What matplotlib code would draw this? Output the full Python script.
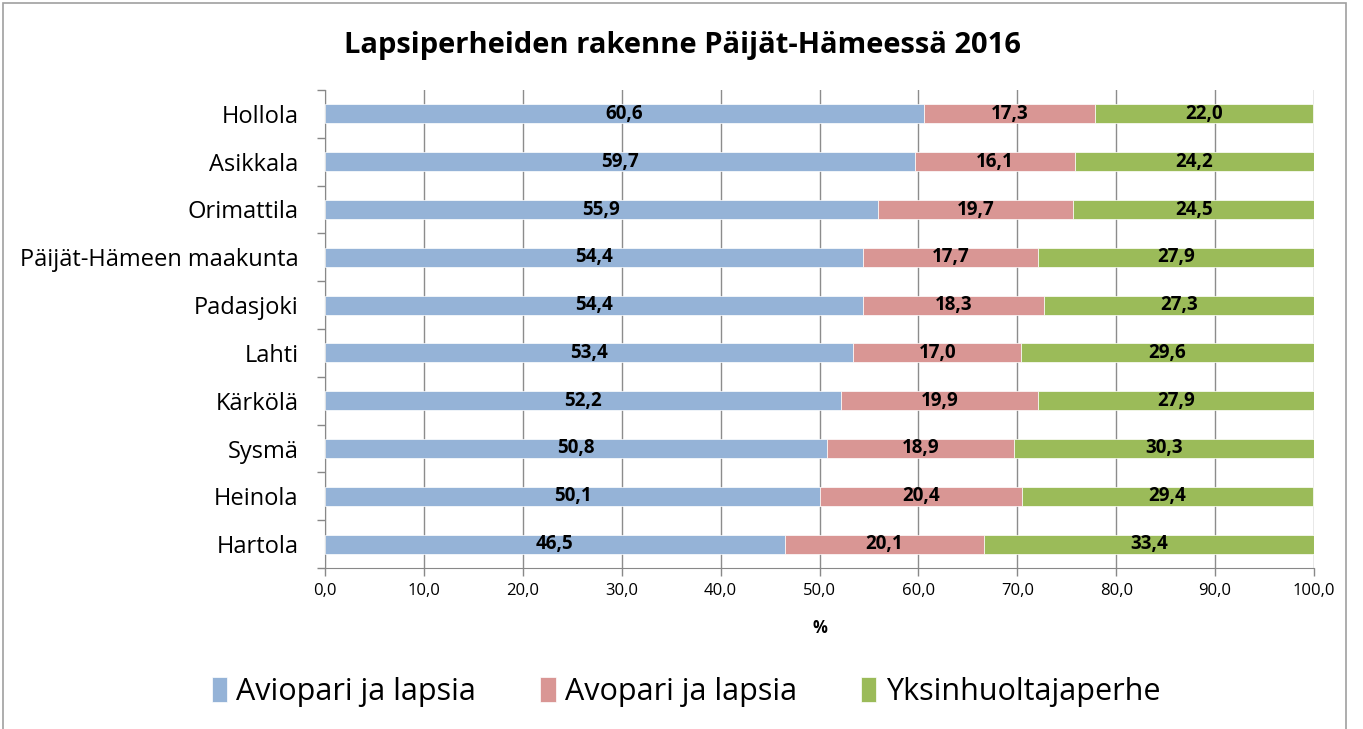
import matplotlib.pyplot as plt
from matplotlib.patches import Rectangle
import numpy as np

plt.rcParams['font.family'] = ['Open Sans', 'DejaVu Sans']

kunnat = ["Hollola", "Asikkala", "Orimattila", "Päijät-Hämeen maakunta", "Padasjoki",
          "Lahti", "Kärkölä", "Sysmä", "Heinola", "Hartola"]
aviopari = [60.6, 59.7, 55.9, 54.4, 54.4, 53.4, 52.2, 50.8, 50.1, 46.5]
avopari = [17.3, 16.1, 19.7, 17.7, 18.3, 17.0, 19.9, 18.9, 20.4, 20.1]
yksin = [22.0, 24.2, 24.5, 27.9, 27.3, 29.6, 27.9, 30.3, 29.4, 33.4]
sarjat = ["Aviopari ja lapsia", "Avopari ja lapsia", "Yksinhuoltajaperhe"]
varit = ["#95B3D7", "#D99694", "#9BBB59"]

fig = plt.figure(figsize=(13.63, 7.29), dpi=100)
ax = fig.add_axes([325 / 1363, 1 - 568 / 729, (1314 - 325) / 1363, (568 - 90) / 729])

# outer chart border
fig.patches.append(Rectangle((3 / 1363, -0.01), 1343 / 1363, 1 - 3 / 729 + 0.01,
                             transform=fig.transFigure, fill=False,
                             edgecolor="#A0A0A0", linewidth=1.2))

y = np.arange(len(kunnat))
left = np.zeros(len(kunnat))
for vals, nimi, vari in zip([aviopari, avopari, yksin], sarjat, varit):
    vals = np.array(vals)
    bars = ax.barh(y, vals, left=left, height=0.4, color=vari, label=nimi,
                   edgecolor="white", linewidth=0.5, zorder=3)
    for b, v in zip(bars, vals):
        ax.text(b.get_x() + b.get_width() / 2, b.get_y() + b.get_height() / 2,
                f"{v:.1f}".replace(".", ","), ha="center", va="center",
                fontsize=13.5, fontweight="bold", zorder=4)
    left += vals

ax.set_xlim(0, 100)
ax.set_ylim(len(kunnat) - 0.5, -0.5)
ax.set_xticks(np.arange(0, 101, 10))
ax.set_xticklabels([f"{t:.1f}".replace(".", ",") for t in np.arange(0, 101, 10)], fontsize=12)
ax.set_yticks(y)
ax.set_yticklabels(kunnat, fontsize=17)
ax.set_yticks(np.arange(-0.5, len(kunnat), 1), minor=True)
ax.tick_params(axis="y", which="major", length=0, pad=19)
ax.tick_params(axis="y", which="minor", length=6, color="#888888", width=1)
ax.tick_params(axis="x", length=6, color="#888888", width=1, pad=5)
ax.xaxis.grid(True, color="#8C8C8C", linewidth=1, zorder=0)
ax.set_axisbelow(True)
for s in ["top", "right"]:
    ax.spines[s].set_visible(False)
for s in ["left", "bottom"]:
    ax.spines[s].set_color("#888888")
ax.set_xlabel("%", fontsize=12, fontweight="bold", labelpad=14)

fig.suptitle("Lapsiperheiden rakenne Päijät-Hämeessä 2016", x=682 / 1363, y=1 - 45 / 729,
             va="center", fontsize=21, fontweight="bold")

fig.legend(loc="center", bbox_to_anchor=(686 / 1363, 1 - 692 / 729), ncol=3, frameon=False,
           fontsize=22, handlelength=0.5, handleheight=0.9, handletextpad=0.3,
           columnspacing=2.1)

fig.savefig("out.png", dpi=100)
